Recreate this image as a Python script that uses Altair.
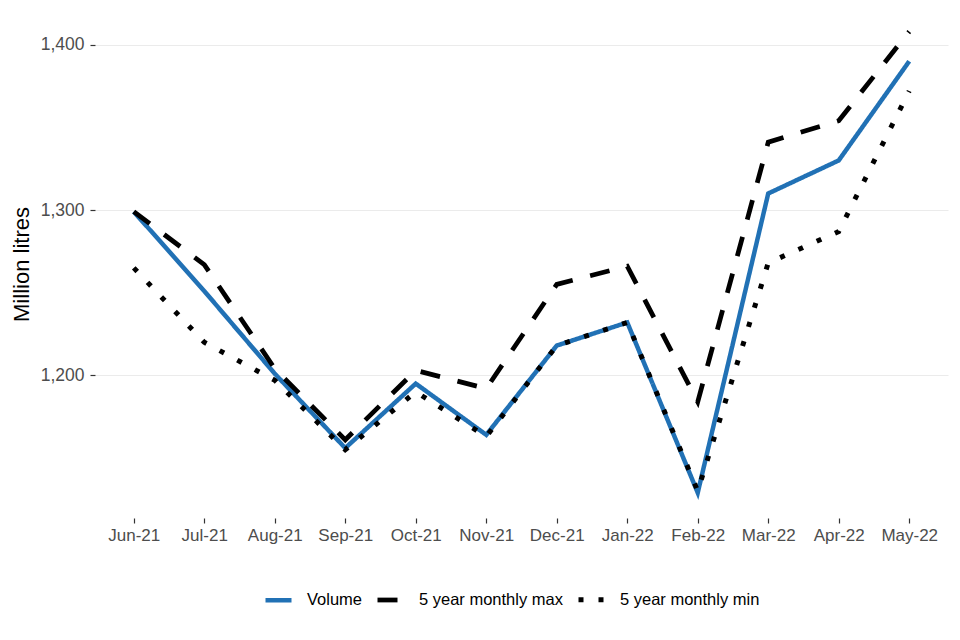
import altair as alt
import pandas as pd

months = ["Jun-21", "Jul-21", "Aug-21", "Sep-21", "Oct-21", "Nov-21",
          "Dec-21", "Jan-22", "Feb-22", "Mar-22", "Apr-22", "May-22"]
volume = [1299, 1251, 1201, 1156, 1195, 1164, 1218, 1232, 1129, 1310, 1330, 1390]
max5 = [1299, 1267, 1204, 1161, 1203, 1192, 1255, 1266, 1184, 1341, 1354, 1408]
min5 = [1265, 1220, 1197, 1155, 1190, 1163, 1218, 1232, 1130, 1268, 1287, 1372]

series_names = ["Volume", "5 year monthly max", "5 year monthly min"]
series_values = [volume, max5, min5]

rows = []
for name, vals in zip(series_names, series_values):
    for m, v in zip(months, vals):
        rows.append({"month": m, "value": v, "series": name})
df = pd.DataFrame(rows)

FONT = "Liberation Sans"

chart = alt.Chart(df).mark_line(strokeCap="butt", strokeJoin="miter").encode(
    x=alt.X("month:N", sort=months,
            scale=alt.Scale(type="point", padding=0.55),
            axis=alt.Axis(title=None, labelAngle=0, grid=False, domain=False,
                          ticks=True, tickSize=5, tickColor="#333333", tickWidth=1.2,
                          labelColor="#4D4D4D", labelFontSize=17, labelFont=FONT,
                          labelPadding=4)),
    y=alt.Y("value:Q",
            scale=alt.Scale(domain=[1113.7, 1421], zero=False, nice=False),
            axis=alt.Axis(title="Million litres", values=[1200, 1300, 1400], format=",.0f",
                          grid=True, gridColor="#EBEBEB", gridWidth=1.2, domain=False,
                          ticks=True, tickSize=5, tickColor="#333333", tickWidth=1.2,
                          labelColor="#4D4D4D", labelFontSize=17.5, labelFont=FONT,
                          labelPadding=6,
                          titleFont=FONT, titleFontSize=22, titleFontWeight="normal",
                          titleColor="#000000", titlePadding=7)),
    color=alt.Color("series:N",
                    scale=alt.Scale(domain=series_names,
                                    range=["#2171B5", "#000000", "#000000"]),
                    legend=alt.Legend(title=None, orient="none", direction="horizontal",
                                      legendX=168, legendY=574,
                                      symbolType="stroke", symbolSize=676,
                                      labelFont=FONT, labelFontSize=16.5,
                                      labelColor="#000000", labelOffset=13,
                                      columnPadding=5)),
    strokeDash=alt.StrokeDash("series:N",
                              scale=alt.Scale(domain=series_names,
                                              range=[[1, 0], [20, 18], [5, 15]])),
    strokeWidth=alt.StrokeWidth("series:N",
                                scale=alt.Scale(domain=series_names,
                                                range=[4.5, 5, 5])),
).properties(
    width=853, height=508,
    background="white",
    autosize=alt.AutoSizeParams(type="none"),
    padding={"left": 87, "top": 2, "right": 4, "bottom": 120},
).configure_view(stroke=None, strokeWidth=0)

chart.save("out.html", embed_options={"renderer": "svg", "actions": False})
